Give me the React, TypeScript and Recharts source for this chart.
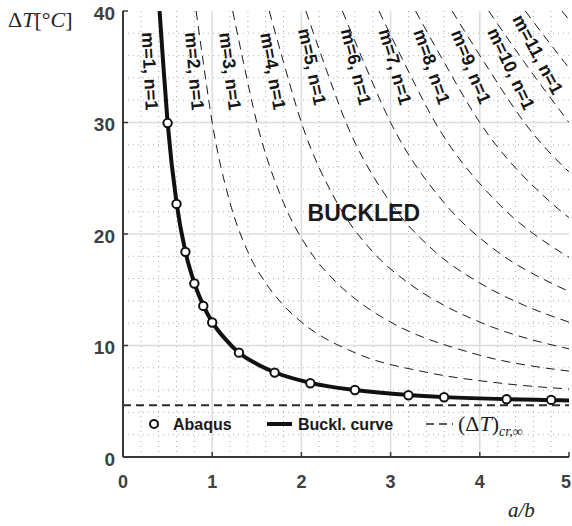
import React from 'react';
import {
  ComposedChart,
  Line,
  Scatter,
  XAxis,
  YAxis,
  ReferenceLine,
  ReferenceDot,
  Legend
} from 'recharts';

// axes
const X_TICKS = [0, 1, 2, 3, 4, 5];
const Y_TICKS = [0, 10, 20, 30, 40];
const X_GRID = [1, 2, 3, 4];
const Y_GRID = [10, 20, 30];
const X_MINOR = [0.2, 0.4, 0.6, 0.8, 1.2, 1.4, 1.6, 1.8, 2.2, 2.4, 2.6, 2.8, 3.2, 3.4, 3.6, 3.8, 4.2, 4.4, 4.6, 4.8];
const Y_MINOR = [2, 4, 6, 8, 12, 14, 16, 18, 22, 24, 26, 28, 32, 34, 36, 38];

// (ΔT)cr,∞
const ASYMPTOTE = 4.65;

// Abaqus results
const ABAQUS_X = [0.5, 0.6, 0.7, 0.8, 0.9, 1.0, 1.3, 1.7, 2.1, 2.6, 3.2, 3.6, 4.3, 4.8];
const ABAQUS_Y = [29.95, 22.7, 18.4, 15.56, 13.55, 12.06, 9.36, 7.57, 6.61, 6.01, 5.54, 5.36, 5.18, 5.12];

// buckling curve (m=1, n=1)
const CURVE_X = [0.41, 0.45, 0.5, 0.6, 0.7, 0.8, 0.9, 1.0, 1.15, 1.3, 1.5, 1.7, 2.1, 2.6, 3.2, 3.6, 4.3, 4.8, 5.0];
const CURVE_Y = [40, 35.4, 30, 22.8, 18.4, 15.6, 13.6, 12.1, 10.55, 9.35, 8.35, 7.6, 6.65, 6.0, 5.55, 5.37, 5.18, 5.1, 5.07];

// higher modes, [a/b, ΔT]
const MODE_2 = [[0.82, 40], [0.9, 35.4], [1.0, 30], [1.2, 22.8], [1.4, 18.4], [1.6, 15.6], [1.8, 13.6], [2.0, 12.1], [2.6, 9.35], [3.4, 7.6], [4.2, 6.65], [5.2, 6.0]];
const MODE_3 = [[1.23, 40], [1.35, 35.4], [1.5, 30], [1.8, 22.8], [2.1, 18.4], [2.4, 15.6], [2.7, 13.6], [3.0, 12.1], [3.9, 9.35], [5.1, 7.6]];
const MODE_4 = [[1.64, 40], [1.8, 35.4], [2.0, 30], [2.4, 22.8], [2.8, 18.4], [3.2, 15.6], [3.6, 13.6], [4.0, 12.1], [5.2, 9.35]];
const MODE_5 = [[2.05, 40], [2.25, 35.4], [2.5, 30], [3.0, 22.8], [3.5, 18.4], [4.0, 15.6], [4.5, 13.6], [5.0, 12.1]];
const MODE_6 = [[2.46, 40], [2.7, 35.4], [3.0, 30], [3.6, 22.8], [4.2, 18.4], [4.8, 15.6], [5.4, 13.6]];
const MODE_7 = [[2.87, 40], [3.15, 35.4], [3.5, 30], [4.2, 22.8], [4.9, 18.4], [5.6, 15.6]];
const MODE_8 = [[3.28, 40], [3.6, 35.4], [4.0, 30], [4.8, 22.8], [5.6, 18.4]];
const MODE_9 = [[3.69, 40], [4.05, 35.4], [4.5, 30], [5.4, 22.8]];
const MODE_10 = [[4.1, 40], [4.5, 35.4], [5.0, 30]];
const MODE_11 = [[4.51, 40], [4.95, 35.4], [5.5, 30]];
const MODE_12 = [[4.92, 40], [5.4, 35.4]];

const MODES = [MODE_2, MODE_3, MODE_4, MODE_5, MODE_6, MODE_7, MODE_8, MODE_9, MODE_10, MODE_11, MODE_12];
const MODE_LABELS = ['m=1, n=1', 'm=2, n=1', 'm=3, n=1', 'm=4, n=1', 'm=5, n=1', 'm=6, n=1', 'm=7, n=1', 'm=8, n=1', 'm=9, n=1', 'm=10, n=1', 'm=11, n=1'];

// where the mode labels sit (data coords) and their tilt
const LABEL_SPOTS = [
  { x: 0.3, y: 34.6, angle: 87 },
  { x: 0.8, y: 34.6, angle: 85 },
  { x: 1.2, y: 34.6, angle: 83 },
  { x: 1.68, y: 34.6, angle: 80 },
  { x: 2.12, y: 35.0, angle: 78 },
  { x: 2.61, y: 35.0, angle: 76 },
  { x: 3.05, y: 35.0, angle: 74 },
  { x: 3.46, y: 35.0, angle: 71 },
  { x: 3.9, y: 35.0, angle: 68 },
  { x: 4.35, y: 34.8, angle: 65 },
  { x: 4.65, y: 36.1, angle: 62 }
];

const SANS = '"Liberation Sans", Arial, Helvetica, sans-serif';
const SERIF = '"Liberation Serif", "Times New Roman", serif';
const AXIS_COLOR = '#3a3a3a';
const TICK_LEN = 5;

const curveData = CURVE_X.map((x, i) => ({ x, y: CURVE_Y[i] }));
const abaqusData = ABAQUS_X.map((x, i) => ({ x, y: ABAQUS_Y[i] }));
const modeData = MODES.map(pts => pts.map(([x, y]) => ({ x, y })));

const BottomTick = ({ x, y, payload }: any) => (
  <g>
    <line x1={x} y1={y} x2={x} y2={y - TICK_LEN} stroke={AXIS_COLOR} strokeWidth={1.5} />
    <text x={Math.min(x, 566)} y={y + 31} textAnchor="middle" fontFamily={SANS} fontWeight="bold" fontSize={18} fill="#404040">
      {payload.value}
    </text>
  </g>
);

const LeftTick = ({ x, y, payload }: any) => (
  <g>
    <line x1={x} y1={y} x2={x + TICK_LEN} y2={y} stroke={AXIS_COLOR} strokeWidth={1.5} />
    <text x={x - 8} y={y + 8.5} textAnchor="end" fontFamily={SANS} fontWeight="bold" fontSize={19} fill="#404040">
      {payload.value}
    </text>
  </g>
);

const TopTick = ({ x, y }: any) => (
  <line x1={x} y1={y} x2={x} y2={y + TICK_LEN} stroke={AXIS_COLOR} strokeWidth={1.5} />
);

const RightTick = ({ x, y }: any) => (
  <line x1={x} y1={y} x2={x - TICK_LEN} y2={y} stroke={AXIS_COLOR} strokeWidth={1.5} />
);

const LegendBox = () => (
  <svg width={440} height={24} style={{ display: 'block', overflow: 'visible' }}>
    <circle cx={14} cy={12} r={4} fill="#fff" stroke="#111" strokeWidth={2} />
    <text x={33} y={18} fontFamily={SANS} fontWeight="bold" fontSize={16} fill="#1a1a1a">Abaqus</text>
    <line x1={127} y1={12} x2={152} y2={12} stroke="#111" strokeWidth={4} />
    <text x={158} y={18} fontFamily={SANS} fontWeight="bold" fontSize={16} fill="#1a1a1a">Buckl. curve</text>
    <line x1={286} y1={12} x2={313} y2={12} stroke="#222" strokeWidth={1.3} strokeDasharray="8 5" />
    <text x={318} y={19} fontFamily={SERIF} fontSize={22} fill="#222">
      <tspan>(Δ</tspan>
      <tspan fontStyle="italic">T</tspan>
      <tspan>)</tspan>
      <tspan fontStyle="italic" fontSize={14} dy={5}>cr,∞</tspan>
    </text>
  </svg>
);

export default function App() {
  return (
    <div style={{ position: 'absolute', left: 0, top: 0, width: 572, height: 526, background: '#fff' }}>
      <ComposedChart width={572} height={526} margin={{ top: 11, right: 3, bottom: 39, left: 63 }}>
        <XAxis
          type="number"
          dataKey="x"
          domain={[0, 5]}
          ticks={X_TICKS}
          interval={0}
          allowDataOverflow
          height={30}
          tickSize={0}
          tickMargin={0}
          tick={<BottomTick />}
          tickLine={false}
          axisLine={{ stroke: AXIS_COLOR, strokeWidth: 2 }}
          label={{
            content: () => (
              <text x={508} y={517} fontFamily={SERIF} fontStyle="italic" fontSize={21} fill="#222">a/b</text>
            )
          }}
        />
        <YAxis
          type="number"
          domain={[0, 40]}
          ticks={Y_TICKS}
          interval={0}
          allowDataOverflow
          width={60}
          tickSize={0}
          tickMargin={0}
          tick={<LeftTick />}
          tickLine={false}
          axisLine={{ stroke: AXIS_COLOR, strokeWidth: 2 }}
          label={{
            content: () => (
              <text x={8} y={27} fontFamily={SERIF} fontSize={22} fill="#222">
                <tspan>Δ</tspan>
                <tspan fontStyle="italic">T</tspan>
                <tspan>[°</tspan>
                <tspan fontStyle="italic">C</tspan>
                <tspan>]</tspan>
              </text>
            )
          }}
        />
        <XAxis
          xAxisId="top"
          orientation="top"
          type="number"
          domain={[0, 5]}
          ticks={X_TICKS}
          interval={0}
          height={0}
          tickSize={0}
          tickMargin={0}
          tick={<TopTick />}
          tickLine={false}
          axisLine={{ stroke: AXIS_COLOR, strokeWidth: 2 }}
        />
        <YAxis
          yAxisId="right"
          orientation="right"
          type="number"
          domain={[0, 40]}
          ticks={Y_TICKS}
          interval={0}
          width={0}
          tickSize={0}
          tickMargin={0}
          tick={<RightTick />}
          tickLine={false}
          axisLine={{ stroke: AXIS_COLOR, strokeWidth: 2 }}
        />

        {/* minor grid (dotted) */}
        {X_MINOR.map(v => (
          <ReferenceLine key={`mx-${v}`} x={v} stroke="#b0b0b0" strokeWidth={1} strokeDasharray="1 4" />
        ))}
        {Y_MINOR.map(v => (
          <ReferenceLine key={`my-${v}`} y={v} stroke="#b0b0b0" strokeWidth={1} strokeDasharray="1 4" />
        ))}
        {/* major grid */}
        {X_GRID.map(v => (
          <ReferenceLine key={`gx-${v}`} x={v} stroke="#dcdcdc" strokeWidth={1.5} />
        ))}
        {Y_GRID.map(v => (
          <ReferenceLine key={`gy-${v}`} y={v} stroke="#dcdcdc" strokeWidth={1.5} />
        ))}

        <ReferenceLine y={ASYMPTOTE} stroke="#2a2a2a" strokeWidth={2} strokeDasharray="8 5" />

        {modeData.map((d, i) => (
          <Line
            key={`mode-${i + 2}`}
            data={d}
            dataKey="y"
            type="monotone"
            stroke="#1a1a1a"
            strokeWidth={1}
            strokeDasharray="9 6"
            dot={false}
            isAnimationActive={false}
            legendType="none"
          />
        ))}

        <Line
          data={curveData}
          dataKey="y"
          type="monotone"
          stroke="#111"
          strokeWidth={4}
          dot={false}
          isAnimationActive={false}
          legendType="none"
        />

        <Scatter
          data={abaqusData}
          dataKey="y"
          isAnimationActive={false}
          legendType="none"
          shape={(p: any) => <circle cx={p.cx} cy={p.cy} r={4.2} fill="#fff" stroke="#111" strokeWidth={2} />}
        />

        {LABEL_SPOTS.map((s, i) => (
          <ReferenceDot
            key={`lab-${i}`}
            x={s.x}
            y={s.y}
            r={0}
            shape={(p: any) => (
              <text
                x={p.cx}
                y={p.cy}
                transform={`rotate(${s.angle} ${p.cx} ${p.cy})`}
                textAnchor="middle"
                dominantBaseline="central"
                fontFamily={SANS}
                fontWeight="bold"
                fontSize={18}
                fill="#151515"
              >
                {MODE_LABELS[i]}
              </text>
            )}
          />
        ))}

        <ReferenceDot
          x={2.7}
          y={21.9}
          r={0}
          shape={(p: any) => (
            <text x={p.cx} y={p.cy} textAnchor="middle" dominantBaseline="central" fontFamily={SANS} fontWeight="bold" fontSize={23} fill="#1a1a1a">
              BUCKLED
            </text>
          )}
        />

        <Legend
          layout="horizontal"
          verticalAlign="middle"
          align="center"
          wrapperStyle={{ left: 140, top: 412, width: 440, height: 24 }}
          content={() => <LegendBox />}
        />
      </ComposedChart>
    </div>
  );
}
